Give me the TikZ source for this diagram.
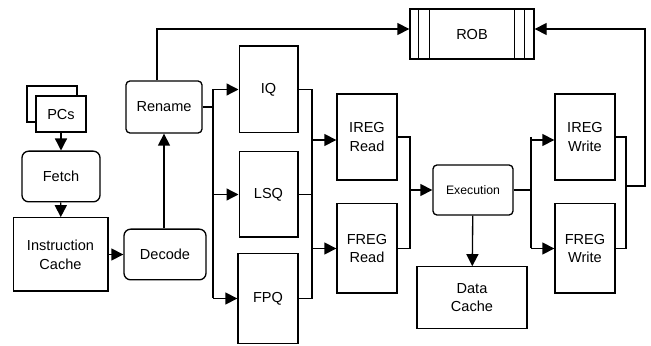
\documentclass[tikz,border=0pt]{standalone}
\usepackage{fontspec}
\setmainfont{Liberation Sans}
\usetikzlibrary{arrows.meta,calc}
\begin{document}
\begin{tikzpicture}[x=0.75pt,y=-0.75pt,line width=1pt,
    box/.style={draw,rectangle,inner sep=0pt,align=center,font=\fontsize{10.9}{14}\selectfont},
    rbox/.style={box,rounded corners=5pt},
    cbox/.style={box,rounded corners=3pt},
    arr/.style={-{Triangle[length=9pt,width=9pt]}}]
    \useasboundingbox (0,0) rectangle (651,346);
    % front end
    \node[box,minimum width=37.5pt,minimum height=27pt] (pcsback) at (52,104) {};
    \node[box,fill=white,minimum width=37.5pt,minimum height=27pt] (pcs) at (61,114) {PCs};
    \node[rbox,minimum width=58.5pt,minimum height=38pt] (fetch) at (61,176.5) {Fetch};
    \node[box,minimum width=71pt,minimum height=55pt] (icache) at (60.5,254.5) {Instruction\\Cache};
    \node[rbox,minimum width=61.5pt,minimum height=38pt] (decode) at (165,254.5) {Decode};
    \node[cbox,minimum width=57pt,minimum height=39pt] (rename) at (164,107) {Rename};
    % queues
    \node[box,minimum width=44pt,minimum height=65pt] (iq) at (268.5,89.5) {IQ};
    \node[box,minimum width=44pt,minimum height=64pt] (lsq) at (268.5,194.5) {LSQ};
    \node[box,minimum width=45pt,minimum height=67pt] (fpq) at (268,298.5) {FPQ};
    % register read / execute / write
    \node[box,minimum width=45pt,minimum height=64.5pt] (iregr) at (367,137) {IREG\\Read};
    \node[box,minimum width=45pt,minimum height=67pt] (fregr) at (367,248.5) {FREG\\Read};
    \node[cbox,minimum width=60pt,minimum height=37.5pt,font=\fontsize{9.2}{11}\selectfont] (exec) at (473,190) {Execution};
    \node[box,minimum width=82.5pt,minimum height=46pt] (dcache) at (472,297.5) {Data\\Cache};
    \node[box,minimum width=45pt,minimum height=64.5pt] (iregw) at (585,137) {IREG\\Write};
    \node[box,minimum width=45pt,minimum height=67pt] (fregw) at (585,248.5) {FREG\\Write};
    \node[box,minimum width=93pt,minimum height=37.5pt] (rob) at (472,34) {ROB};
    \draw ($(rob.north west)+(9,0)$) -- ($(rob.south west)+(9,0)$);
    \draw ($(rob.north west)+(20,0)$) -- ($(rob.south west)+(20,0)$);
    \draw ($(rob.north east)+(-10,0)$) -- ($(rob.south east)+(-10,0)$);
    \draw ($(rob.north east)+(-20,0)$) -- ($(rob.south east)+(-20,0)$);
    \coordinate (robin) at ($(rob.west)+(0,-5)$);
    \coordinate (robout) at ($(rob.east)+(0,-5)$);
    % buses
    \coordinate (qbus) at (213,107);
    \coordinate (rbus) at (312,190);
    \coordinate (xbus) at (410,190);
    \coordinate (wbus) at (531,190);
    \coordinate (cbus) at (626,186);
    \coordinate (back) at (645,186);
    % connectors
    \draw[arr] (pcs) -- (fetch);
    \draw[arr] (fetch) -- (icache);
    \draw[arr] (icache) -- (decode);
    \draw[arr] (decode.north -| rename) -- (rename.south);
    \draw[arr] ([xshift=-5.25pt]rename.north) |- (robin);
    \draw (rename.east) -- (qbus);
    \draw (qbus |- iq.west) -- (qbus |- fpq.west);
    \draw[arr] (qbus |- iq.west) -- (iq.west);
    \draw[arr] (qbus |- lsq.west) -- (lsq.west);
    \draw[arr] (qbus |- fpq.west) -- (fpq.west);
    \draw (iq.east) -| (rbus) |- (fpq.east);
    \draw (lsq.east) -- (lsq.east -| rbus);
    \draw[arr] ([yshift=-2.25pt]rbus |- iregr.west) -- ([yshift=-2.25pt]iregr.west);
    \draw[arr] (rbus |- fregr.west) -- (fregr.west);
    \draw (iregr.east) -| (xbus) |- (fregr.east);
    \draw[arr] (xbus) -- (exec.west);
    \draw[arr] (exec) -- (dcache);
    \draw (exec.east) -- (wbus);
    \draw (wbus |- iregw.west) -- (wbus |- fregw.west);
    \draw[arr] ([yshift=-2.25pt]wbus |- iregw.west) -- ([yshift=-2.25pt]iregw.west);
    \draw[arr] (wbus |- fregw.west) -- (fregw.west);
    \draw (iregw.east) -| (cbus) |- (fregw.east);
    \draw[arr] (cbus) -- (back) |- (robout);
\end{tikzpicture}
\end{document}
